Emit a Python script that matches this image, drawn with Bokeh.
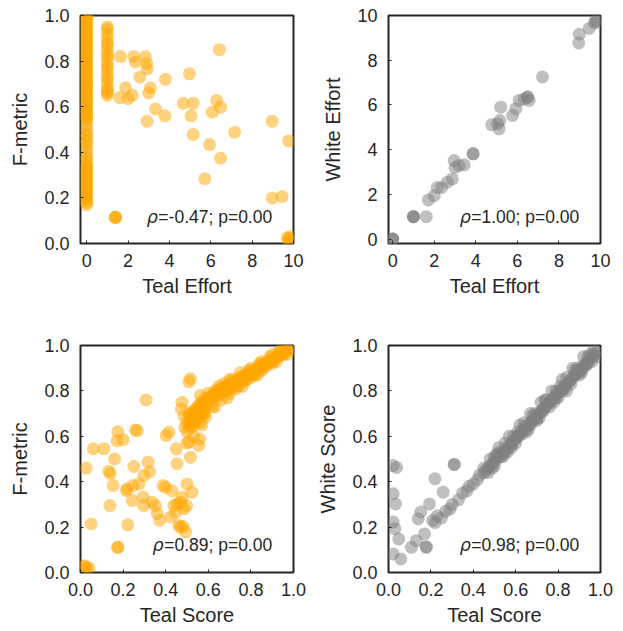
from bokeh.plotting import figure
from bokeh.layouts import column, row
from bokeh.models import FixedTicker, PrintfTickFormatter, Label, Range1d
from bokeh.embed import file_html
from bokeh.resources import INLINE

# ---------------- data ----------------
# Panel 1: Teal Effort vs F-metric
effort_zero_f = [1.0, 0.99, 0.98, 0.97, 0.96, 0.95, 0.94, 0.93, 0.92, 0.91, 0.90, 0.89, 0.88,
                 0.87, 0.86, 0.85, 0.84, 0.83, 0.82, 0.81, 0.80, 0.79, 0.78, 0.77, 0.76, 0.75,
                 0.74, 0.73, 0.72, 0.71, 0.70, 0.69, 0.68, 0.67, 0.66, 0.65, 0.64, 0.63, 0.62,
                 0.61, 0.60, 0.59, 0.58, 0.57, 0.56, 0.55, 0.54, 0.52, 0.50, 0.48, 0.47, 0.45,
                 0.44, 0.42, 0.40, 0.38, 0.37, 0.35, 0.34, 0.33, 0.32, 0.31, 0.30, 0.29, 0.28,
                 0.27, 0.26, 0.25, 0.24, 0.23, 0.22, 0.21, 0.20, 0.19, 0.18, 0.17]
effort_one_f = [0.95, 0.94, 0.92, 0.90, 0.88, 0.87, 0.85, 0.83, 0.82, 0.80, 0.78, 0.77, 0.75,
                0.73, 0.72, 0.70, 0.68, 0.67, 0.66, 0.65]
effort_other_x = [1.63, 2.28, 2.36, 2.84, 2.93, 2.90, 2.57, 1.88, 1.60, 2.00, 2.20, 3.08, 3.00,
                  2.92, 3.33, 3.78, 3.81, 4.97, 4.67, 5.15, 5.05, 5.15, 6.42, 6.28, 6.47, 6.07,
                  5.94, 6.47, 5.71, 7.15, 8.97, 9.77, 8.97, 9.45, 1.39, 1.39, 1.39, 9.70, 9.80,
                  9.85, 9.75]
effort_other_f = [0.82, 0.82, 0.795, 0.82, 0.766, 0.79, 0.73, 0.683, 0.64, 0.635, 0.65, 0.683,
                  0.66, 0.536, 0.59, 0.56, 0.72, 0.744, 0.615, 0.615, 0.56, 0.478, 0.85, 0.627,
                  0.598, 0.576, 0.434, 0.374, 0.284, 0.488, 0.536, 0.45, 0.20, 0.206, 0.115,
                  0.115, 0.115, 0.025, 0.02, 0.03, 0.015]

# Panel 2: Teal Effort vs White Effort
teal_effort = [0.0, 0.0, 0.0, 1.0, 1.0, 1.0, 1.62, 1.72, 2.00, 2.15, 2.36, 2.63, 2.87, 2.96,
               3.00, 3.20, 3.44, 3.87, 3.87, 4.77, 5.05, 5.12, 5.20, 5.16, 5.77, 5.93, 6.09,
               6.33, 6.49, 6.49, 6.57, 7.21, 8.95, 8.98, 9.46, 9.70, 9.78, 9.80]
white_effort = [0.0, 0.0, 0.0, 1.0, 1.0, 1.0, 1.00, 1.75, 1.94, 2.31, 2.31, 2.54, 2.69, 3.51,
                3.20, 3.29, 3.32, 3.81, 3.81, 5.11, 5.16, 4.93, 5.90, 5.30, 5.53, 5.83, 6.20,
                6.27, 6.35, 6.35, 6.20, 7.25, 8.77, 9.16, 9.42, 9.67, 9.79, 9.70]

# Panel 3: Teal Score vs F-metric
score_f_x = [0.027, 0.06, 0.11, 0.05, 0.02, 0.03, 0.04, 0.015, 0.175, 0.172, 0.20, 0.16, 0.133,
             0.14, 0.153, 0.138, 0.222, 0.175, 0.175, 0.258, 0.266, 0.25, 0.219, 0.216, 0.247,
             0.243, 0.274, 0.297, 0.318, 0.325, 0.308, 0.294, 0.297, 0.336, 0.352, 0.36, 0.372,
             0.388, 0.399, 0.423, 0.43, 0.402, 0.415, 0.45, 0.453, 0.439, 0.446, 0.454, 0.47,
             0.477, 0.47, 0.462, 0.482, 0.493, 0.486, 0.498, 0.477, 0.474, 0.486, 0.516, 0.509,
             0.508, 0.516, 0.50, 0.50, 0.523, 0.532, 0.555, 0.56, 0.563, 0.54, 0.57, 0.532, 0.587,
             0.50, 0.51, 0.51, 0.52, 0.52, 0.53, 0.53, 0.54, 0.54, 0.55, 0.55, 0.56, 0.56, 0.57,
             0.57, 0.58, 0.58, 0.59, 0.60, 0.60, 0.61, 0.62, 0.62, 0.63, 0.64, 0.64, 0.65, 0.66,
             0.66, 0.67, 0.68, 0.68, 0.69, 0.70, 0.70, 0.71, 0.72, 0.72, 0.73, 0.74, 0.75, 0.75,
             0.76, 0.77, 0.78, 0.78, 0.79, 0.80, 0.80, 0.81, 0.82, 0.83, 0.84, 0.85, 0.85, 0.86,
             0.87, 0.88, 0.89, 0.90, 0.90, 0.91, 0.92, 0.93, 0.94, 0.95, 0.95, 0.96, 0.97, 0.98,
             0.96, 0.93, 0.88, 0.83, 0.76, 0.69, 0.63, 0.58, 0.53,
             0.55, 0.58, 0.62, 0.66, 0.70, 0.74, 0.78, 0.82, 0.86, 0.90,
             0.60, 0.65, 0.70, 0.75, 0.80, 0.85, 0.90, 0.94,
             0.49, 0.50, 0.51, 0.52, 0.53, 0.54, 0.55, 0.56, 0.57, 0.58, 0.61, 0.63, 0.65, 0.67,
             0.69, 0.71, 0.73, 0.76, 0.79, 0.81, 0.84, 0.87, 0.89, 0.92, 0.94, 0.97, 0.99]
score_f_y = [0.46, 0.545, 0.545, 0.214, 0.03, 0.02, 0.02, 0.025, 0.62, 0.58, 0.585, 0.50, 0.446,
             0.435, 0.383, 0.295, 0.21, 0.111, 0.111, 0.628, 0.625, 0.467, 0.369, 0.36, 0.383,
             0.317, 0.39, 0.427, 0.486, 0.443, 0.76, 0.332, 0.295, 0.31, 0.295, 0.26, 0.229,
             0.383, 0.376, 0.244, 0.36, 0.603, 0.618, 0.545, 0.479, 0.295, 0.265, 0.302, 0.31,
             0.332, 0.20, 0.207, 0.203, 0.178, 0.28, 0.294, 0.75, 0.72, 0.69, 0.853, 0.84,
             0.575, 0.508, 0.57, 0.39, 0.354, 0.60, 0.56, 0.588, 0.78, 0.69, 0.65, 0.65, 0.685,
             0.66, 0.65, 0.68, 0.67, 0.70, 0.68, 0.71, 0.70, 0.72, 0.71, 0.73, 0.72, 0.74, 0.73,
             0.75, 0.74, 0.76, 0.75, 0.76, 0.77, 0.77, 0.77, 0.78, 0.78, 0.79, 0.80, 0.79, 0.80,
             0.81, 0.81, 0.82, 0.80, 0.82, 0.83, 0.81, 0.83, 0.84, 0.82, 0.84, 0.85, 0.85, 0.86,
             0.86, 0.87, 0.87, 0.85, 0.88, 0.88, 0.86, 0.89, 0.89, 0.90, 0.90, 0.91, 0.89, 0.92,
             0.92, 0.93, 0.93, 0.94, 0.92, 0.94, 0.95, 0.95, 0.96, 0.97, 0.96, 0.97, 0.98, 0.98,
             0.98, 0.97, 0.92, 0.87, 0.82, 0.77, 0.73, 0.70, 0.67,
             0.68, 0.70, 0.73, 0.76, 0.79, 0.82, 0.85, 0.87, 0.90, 0.93,
             0.79, 0.82, 0.85, 0.88, 0.90, 0.93, 0.96, 0.98,
             0.64, 0.62, 0.70, 0.64, 0.66, 0.67, 0.69, 0.66, 0.70, 0.72, 0.74, 0.80, 0.78, 0.83,
             0.80, 0.85, 0.81, 0.84, 0.89, 0.87, 0.92, 0.91, 0.95, 0.93, 0.97, 0.96, 0.99]

# Panel 4: Teal Score vs White Score
score_w_x = [0.022, 0.038, 0.022, 0.033, 0.022, 0.03, 0.048, 0.022, 0.058, 0.108, 0.131, 0.14,
             0.152, 0.178, 0.178, 0.17, 0.193, 0.219, 0.208, 0.258, 0.31, 0.31, 0.23,
             0.22, 0.25, 0.27, 0.29, 0.30, 0.33, 0.35, 0.37, 0.38, 0.40, 0.42, 0.43, 0.45, 0.46,
             0.47, 0.48, 0.49, 0.50, 0.51, 0.52, 0.53, 0.54, 0.55, 0.56, 0.57, 0.58, 0.59, 0.60,
             0.61, 0.62, 0.63, 0.64, 0.65, 0.66, 0.67, 0.68, 0.69, 0.70, 0.71, 0.72, 0.73, 0.74,
             0.75, 0.76, 0.77, 0.78, 0.79, 0.80, 0.81, 0.82, 0.83, 0.84, 0.85, 0.86, 0.87, 0.88,
             0.89, 0.90, 0.91, 0.92, 0.93, 0.94, 0.95, 0.96, 0.97, 0.98, 0.52, 0.58, 0.64, 0.70,
             0.76, 0.82, 0.88, 0.94, 0.55, 0.61, 0.67, 0.73, 0.79, 0.85, 0.91, 0.97,
             0.47, 0.50, 0.53, 0.56, 0.60, 0.63, 0.66, 0.70, 0.73, 0.76, 0.80, 0.83, 0.86, 0.90,
             0.93, 0.96, 0.48, 0.52, 0.57, 0.62, 0.67, 0.72, 0.77, 0.82, 0.87, 0.92, 0.97,
             0.45, 0.49, 0.51, 0.54, 0.58, 0.61, 0.65, 0.68, 0.71, 0.74, 0.78, 0.81, 0.84, 0.88,
             0.91, 0.95, 0.98, 0.50, 0.55, 0.59, 0.64, 0.69, 0.74, 0.79, 0.84, 0.89, 0.94]
score_w_y = [0.471, 0.463, 0.347, 0.302, 0.222, 0.193, 0.148, 0.082, 0.06, 0.111, 0.14, 0.236,
             0.266, 0.112, 0.112, 0.17, 0.302, 0.413, 0.229, 0.354, 0.476, 0.476, 0.25,
             0.22, 0.24, 0.27, 0.28, 0.30, 0.32, 0.35, 0.36, 0.38, 0.39, 0.41, 0.43, 0.44, 0.45,
             0.46, 0.47, 0.48, 0.49, 0.50, 0.51, 0.52, 0.53, 0.54, 0.55, 0.56, 0.57, 0.58, 0.59,
             0.60, 0.61, 0.62, 0.63, 0.64, 0.65, 0.66, 0.67, 0.68, 0.69, 0.70, 0.71, 0.72, 0.73,
             0.74, 0.75, 0.76, 0.77, 0.78, 0.79, 0.80, 0.81, 0.82, 0.83, 0.84, 0.85, 0.86, 0.87,
             0.88, 0.89, 0.90, 0.91, 0.92, 0.93, 0.94, 0.95, 0.96, 0.97, 0.53, 0.56, 0.64, 0.68,
             0.75, 0.80, 0.87, 0.92, 0.53, 0.60, 0.65, 0.72, 0.77, 0.84, 0.89, 0.96,
             0.44, 0.47, 0.51, 0.53, 0.57, 0.61, 0.63, 0.67, 0.71, 0.73, 0.77, 0.81, 0.83, 0.87,
             0.91, 0.93, 0.50, 0.55, 0.60, 0.65, 0.70, 0.75, 0.80, 0.85, 0.90, 0.95, 0.98,
             0.46, 0.46, 0.52, 0.51, 0.55, 0.62, 0.62, 0.69, 0.68, 0.76, 0.75, 0.82, 0.80, 0.89,
             0.88, 0.96, 0.95, 0.51, 0.57, 0.60, 0.66, 0.70, 0.76, 0.80, 0.86, 0.90, 0.95]

annotations = ["=-0.47; p=0.00", "=1.00; p=0.00", "=0.89; p=0.00", "=0.98; p=0.00"]
effort_ticks = [0, 2, 4, 6, 8, 10]
score_ticks = [0.0, 0.2, 0.4, 0.6, 0.8, 1.0]

ORANGE = "#FFA500"
GRAY = "#808080"
TEXT = "#262626"
FONT = "Liberation Sans"
ANN_SIZE = 17.5

# Arial/Liberation Sans advance widths (per 1000 em)
W = {'=': 584, '-': 333, '.': 278, ';': 278, ' ': 278, 'p': 556}


def text_width(s, size):
    return sum(W.get(c, 556) for c in s) * size / 1000.0


def make(xr, yr, xticks, yticks, xfmt, yfmt, xlabel, ylabel, w, h, borders):
    p = figure(width=w, height=h, x_range=Range1d(*xr), y_range=Range1d(*yr),
               output_backend="svg", toolbar_location=None,
               min_border_left=borders[0], min_border_right=borders[1],
               min_border_top=borders[2], min_border_bottom=borders[3])
    p.grid.visible = False
    p.outline_line_color = TEXT
    p.outline_line_width = 2
    p.background_fill_color = "white"
    p.border_fill_color = "white"
    p.xaxis.ticker = FixedTicker(ticks=xticks)
    p.yaxis.ticker = FixedTicker(ticks=yticks)
    p.xaxis.formatter = PrintfTickFormatter(format=xfmt)
    p.yaxis.formatter = PrintfTickFormatter(format=yfmt)
    p.xaxis.axis_label = xlabel
    p.yaxis.axis_label = ylabel
    for ax in (p.xaxis, p.yaxis):
        ax.axis_line_color = None
        ax.major_tick_in = 3
        ax.major_tick_out = 0
        ax.major_tick_line_color = TEXT
        ax.minor_tick_line_color = None
        ax.major_label_text_font = FONT
        ax.major_label_text_font_size = "18px"
        ax.major_label_text_color = TEXT
        ax.axis_label_text_font = FONT
        ax.axis_label_text_font_size = "20px"
        ax.axis_label_text_font_style = "normal"
        ax.axis_label_text_color = TEXT
    p.xaxis.major_label_standoff = 10
    p.xaxis.axis_label_standoff = 5
    p.yaxis.major_label_standoff = 11
    p.yaxis.axis_label_standoff = 10
    return p


def annotate(p, xr, yr, txt, fy):
    x = xr[0] + 0.9 * (xr[1] - xr[0])
    y = yr[0] + fy * (yr[1] - yr[0])
    p.add_layout(Label(x=x, y=y, text=txt, text_align="right", text_baseline="alphabetic",
                       text_font=FONT, text_font_size=f"{ANN_SIZE}px", text_color=TEXT))
    p.add_layout(Label(x=x, y=y, x_offset=-text_width(txt, ANN_SIZE) - 0.5, text="ρ",
                       text_align="right", text_baseline="alphabetic", text_font="DejaVu Sans",
                       text_font_style="italic", text_font_size=f"{ANN_SIZE}px", text_color=TEXT))


sc = dict(size=13, line_color=None, fill_alpha=0.5)

# Panel 1
xr1, yr1 = (-0.3, 10.0), (0.0, 1.0)
p1 = make(xr1, yr1, effort_ticks, score_ticks, "%d", "%.1f", "Teal Effort", "F-metric",
          311, 320, (80, 18, 15, 77))
p1.scatter([0.0] * len(effort_zero_f), effort_zero_f, fill_color=ORANGE, **sc)
p1.scatter([1.0] * len(effort_one_f), effort_one_f, fill_color=ORANGE, **sc)
p1.scatter(effort_other_x, effort_other_f, fill_color=ORANGE, **sc)
annotate(p1, xr1, yr1, annotations[0], 0.118)

# Panel 2
xr2, yr2 = (-0.2, 10.0), (-0.2, 10.0)
p2 = make(xr2, yr2, effort_ticks, effort_ticks, "%d", "%d", "Teal Effort", "White Effort",
          312, 320, (77, 23, 15, 77))
p2.scatter(teal_effort, white_effort, fill_color=GRAY, **sc)
annotate(p2, xr2, yr2, annotations[1], 0.118)

# Panel 3
xr3, yr3 = (0.0, 1.0), (0.0, 1.0)
p3 = make(xr3, yr3, score_ticks, score_ticks, "%.1f", "%.1f", "Teal Score", "F-metric",
          311, 309, (80, 18, 25, 57))
p3.scatter(score_f_x, score_f_y, fill_color=ORANGE, **sc)
annotate(p3, xr3, yr3, annotations[2], 0.12)

# Panel 4
p4 = make(xr3, yr3, score_ticks, score_ticks, "%.1f", "%.1f", "Teal Score", "White Score",
          312, 309, (77, 23, 25, 57))
p4.scatter(score_w_x, score_w_y, fill_color=GRAY, **sc)
annotate(p4, xr3, yr3, annotations[3], 0.12)

layout = column(row(p1, p2), row(p3, p4))
open("out.html", "w").write(file_html(layout, INLINE))
